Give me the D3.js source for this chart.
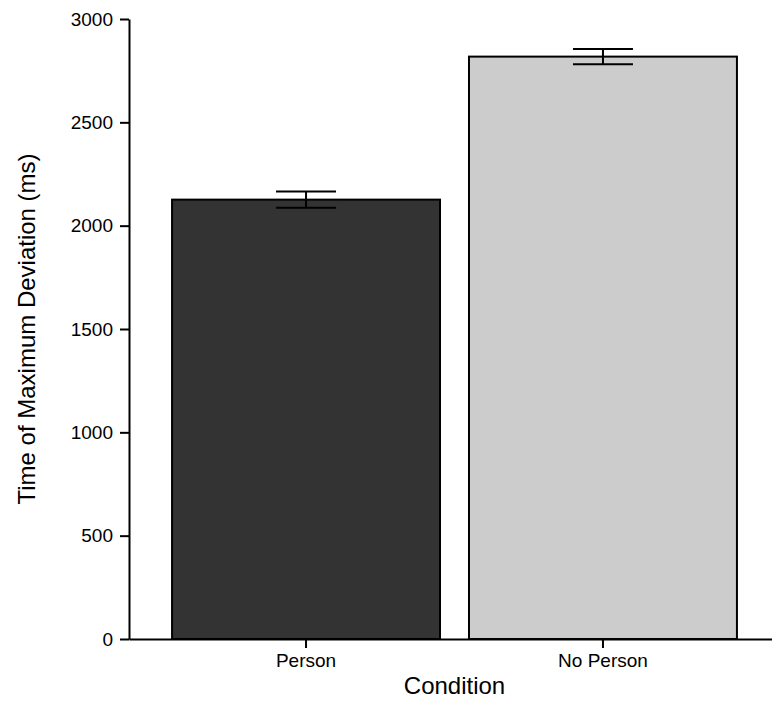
<!DOCTYPE html>
<html lang="en">
<head>
  <meta charset="UTF-8">
  <title>Time of Maximum Deviation</title>
  <script src="https://d3js.org/d3.v7.min.js"></script>
  <style>
    body { margin: 0; background: #fff; }
    svg text { font-family: "Liberation Sans", Arial, sans-serif; fill: #000; }
  </style>
</head>
<body>
  <div id="chart"></div>
  <script>
    // data
    const conditions = ["Person", "No Person"];
    const means = [2126, 2818];
    const errors = [39, 37];
    const barColors = ["#333333", "#cccccc"];
    const yTicks = [0, 500, 1000, 1500, 2000, 2500, 3000];

    const margin = { top: 19, right: -8, bottom: 63, left: 129 };
    const W = 772, H = 702;
    const width = W - margin.left - margin.right;
    const height = H - margin.top - margin.bottom;

    const svg = d3.select("#chart")
      .append("svg")
      .attr("width", W)
      .attr("height", H);

    const g = svg.append("g")
      .attr("transform", `translate(${margin.left},${margin.top})`);

    const x = d3.scaleBand()
      .domain(conditions)
      .range([0, width])
      .paddingInner(0.0976)
      .paddingOuter(0.145);

    const y = d3.scaleLinear()
      .domain([0, 3000])
      .range([height, 0]);

    // bars
    g.selectAll(".bar")
      .data(conditions)
      .enter().append("rect")
      .attr("class", "bar")
      .attr("x", d => x(d))
      .attr("y", (d, i) => y(means[i]))
      .attr("width", x.bandwidth())
      .attr("height", (d, i) => height - y(means[i]))
      .attr("fill", (d, i) => barColors[i])
      .attr("stroke", "#000")
      .attr("stroke-width", 2);

    // error bars
    const capW = 30;
    const eb = g.selectAll(".err")
      .data(conditions)
      .enter().append("g")
      .attr("class", "err")
      .attr("stroke", "#000")
      .attr("stroke-width", 2);

    eb.append("line")
      .attr("x1", d => x(d) + x.bandwidth() / 2)
      .attr("x2", d => x(d) + x.bandwidth() / 2)
      .attr("y1", (d, i) => y(means[i] + errors[i]))
      .attr("y2", (d, i) => y(means[i] - errors[i]));
    eb.append("line")
      .attr("x1", d => x(d) + x.bandwidth() / 2 - capW)
      .attr("x2", d => x(d) + x.bandwidth() / 2 + capW)
      .attr("y1", (d, i) => y(means[i] + errors[i]))
      .attr("y2", (d, i) => y(means[i] + errors[i]));
    eb.append("line")
      .attr("x1", d => x(d) + x.bandwidth() / 2 - capW)
      .attr("x2", d => x(d) + x.bandwidth() / 2 + capW)
      .attr("y1", (d, i) => y(means[i] - errors[i]))
      .attr("y2", (d, i) => y(means[i] - errors[i]));

    // axes
    const yAxis = g.append("g")
      .call(d3.axisLeft(y).tickValues(yTicks).tickFormat(d3.format("d"))
        .tickSize(9).tickPadding(7).tickSizeOuter(0));
    yAxis.selectAll("path, line").attr("stroke", "#000").attr("stroke-width", 2);
    yAxis.selectAll("text").style("font-size", "19px");

    const xAxis = g.append("g")
      .attr("transform", `translate(0,${height})`)
      .call(d3.axisBottom(x).tickSize(9).tickPadding(6).tickSizeOuter(0));
    xAxis.selectAll("path, line").attr("stroke", "#000").attr("stroke-width", 2);
    xAxis.selectAll("text").style("font-size", "19px");

    // axis titles
    g.append("text")
      .attr("x", width / 2)
      .attr("y", height + 55)
      .style("text-anchor", "middle")
      .style("font-size", "24px")
      .text("Condition");

    g.append("text")
      .attr("transform", "rotate(-90)")
      .attr("x", -height / 2)
      .attr("y", -94)
      .style("text-anchor", "middle")
      .style("font-size", "24px")
      .text("Time of Maximum Deviation (ms)");
  </script>
</body>
</html>
